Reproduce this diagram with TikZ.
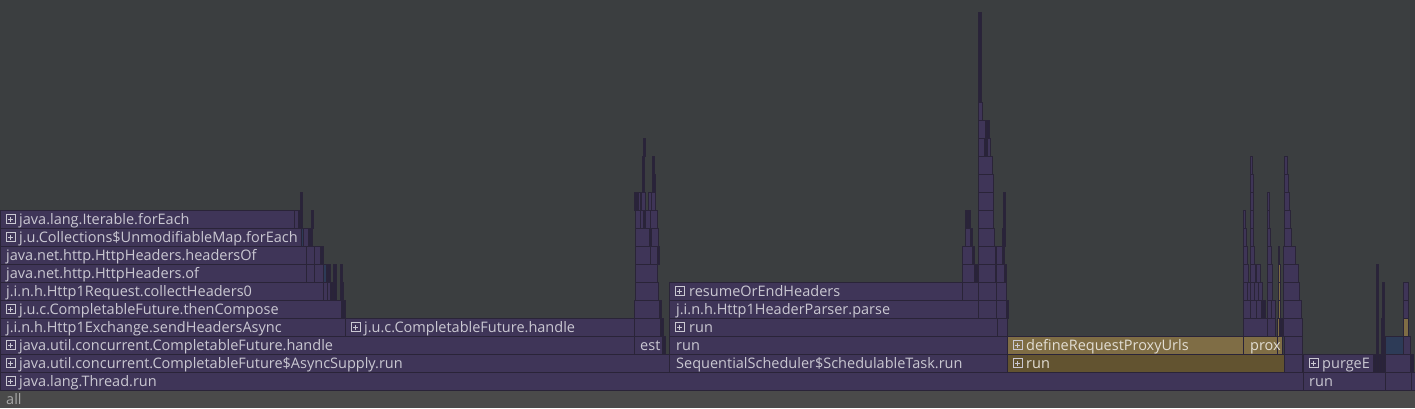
\documentclass[tikz,border=0pt]{standalone}
\usepackage{fontspec}
\setmainfont{Open Sans}
\definecolor{bg}{HTML}{3B3E40}
\definecolor{allc}{HTML}{4A4A4A}
\definecolor{fp}{HTML}{3F3558}
\definecolor{fbd}{HTML}{2A2438}
\definecolor{fdk}{HTML}{29233A}
\definecolor{fy}{HTML}{7F6D45}
\definecolor{fyd}{HTML}{625330}
\definecolor{fbl}{HTML}{2D3B57}
\definecolor{txt}{HTML}{CAC8D2}
\definecolor{txty}{HTML}{E2DED4}
\definecolor{txta}{HTML}{A8A8A8}
\tikzset{
  frm/.style={draw=fbd, line width=1pt},
  lbl/.style={anchor=base west, inner sep=0pt, text=txt, font=\fontsize{14.5}{15}\selectfont},
  ico/.style={draw=txt, line width=0.9pt},
}
\newcommand\FB[4][fp]{\path[frm,fill=#1] (#2,{390-18*#4}) rectangle (#3,{408-18*#4});}
\newcommand\IC[2]{\draw[ico] (#1,{394.5-18*#2}) rectangle ++(9,9);
  \draw[ico] ({#1+2},{399-18*#2}) -- ++(5,0); \draw[ico] ({#1+4.5},{396.5-18*#2}) -- ++(0,5);}
\newcommand\LB[5][txt]{\node[lbl,text=#1] (#2) at (#3,{404-18*#4}) {#5};}
\begin{document}
\begin{tikzpicture}[x=1pt,y=-1pt]
\useasboundingbox (0,0) rectangle (1415,408);
\fill[bg] (0,0) rectangle (1415,408);
\fill[allc] (0,390) rectangle (1415,408);
\node[lbl,text=txta] (all) at (6,404) {all};
% labelled frames
\FB{0}{1303}{1} \FB{1303}{1385}{1}
\FB{0}{669}{2} \FB{669}{1007}{2} \FB[fyd]{1007}{1284}{2} \FB{1303}{1373}{2}
\FB{0}{634}{3} \FB{634}{662}{3} \FB{669}{1007}{3} \FB[fy]{1007}{1243}{3} \FB[fy]{1243}{1277}{3} \FB[fy]{1277}{1282}{3} \FB[fbl]{1385}{1403}{3}
\FB{0}{345}{4} \FB{345}{634}{4} \FB{669}{997}{4}
\FB{0}{341}{5} \FB{669}{978}{5}
\FB{0}{323}{6} \FB{669}{962}{6}
\FB{0}{306}{7}
\FB{0}{306}{8}
\FB{0}{301}{9}
\FB{0}{294}{10}
% plain purple frames
\foreach \a/\b/\r in {1385/1411/1, 1411/1415/1, 1284/1302/2, 1385/1410/2, 1284/1302/3, 1403/1410/3,
 634/660/4, 997/1007/4, 1243/1267/4, 1267/1275/4, 1283/1302/4,
 634/659/5, 978/996/5, 996/1006/5, 1243/1250/5, 1250/1256/5, 1256/1261/5, 1267/1271/5, 1271/1275/5, 1283/1301/5, 1403/1408/5,
 323/327/6, 327/330/6, 635/658/6, 962/978/6, 978/996/6, 996/1006/6, 1243/1247/6, 1247/1250/6, 1250/1254/6, 1254/1258/6, 1258/1262/6, 1267/1272/6, 1283/1299/6, 1403/1408/6,
 306/314/7, 314/323/7, 635/657/7, 962/974/7, 978/995/7, 996/1004/7, 1243/1248/7, 1250/1255/7, 1256/1260/7, 1267/1272/7, 1283/1298/7,
 306/314/8, 314/320/8, 635/650/8, 650/657/8, 962/972/8, 978/995/8, 996/1002/8, 1243/1247/8, 1250/1254/8, 1267/1271/8, 1283/1295/8,
 303/308/9, 635/649/9, 651/658/9, 965/970/9, 978/994/9, 1243/1246/9, 1250/1253/9, 1267/1270/9, 1284/1291/9,
 294/298/10, 635/640/10, 640/643/10, 645/650/10, 650/657/10, 978/993/10, 1243/1245/10, 1250/1253/10, 1267/1269/10, 1284/1290/10,
 638/640/11, 641/645/11, 648/651/11, 651/655/11, 978/993/11, 1250/1253/11, 1267/1269/11, 1284/1289/11,
 978/993/12, 1250/1253/12, 1284/1288/12,
 978/992/13, 1250/1252/13, 1284/1287/13,
 978/984/14, 987/990/14, 978/985/15, 978/982/16}
 {\FB{\a}{\b}{\r}}
% dark slivers
\foreach \a/\b/\r in {1373/1376/2, 1376/1379/2, 1379/1382/2, 1382/1385/2, 1410/1413/2,
 662/665/3, 1376/1378/3, 1381/1384/3,
 660/663/4, 1279/1282/4, 1376/1378/4, 1381/1384/4,
 341/345/5, 659/661/5, 1006/1008/5, 1261/1265/5, 1376/1378/5, 1382/1384/5,
 330/332/6, 333/336/6, 340/343/6, 1376/1378/6, 1382/1384/6,
 326/330/7, 333/336/7, 340/342/7, 974/977/7, 1004/1006/7, 1376/1378/7,
 320/323/8, 657/659/8, 972/974/8, 1002/1004/8,
 308/312/9, 649/651/9, 970/972/9, 1002/1005/9,
 298/300/10, 300/302/10, 311/313/10, 643/645/10, 965/967/10, 968/970/10, 1003/1005/10,
 300/302/11, 634/638/11, 1003/1005/11,
 642/644/12, 652/655/12, 642/644/13, 652/654/13,
 643/645/14, 984/987/14, 986/989/15}
 {\FB[fdk]{\a}{\b}{\r}}
\path[frm,fill=fdk] (978,12) rectangle (981,102);
% small yellow and blue frames
\foreach \a/\b/\r in {1277/1279/4, 1403/1408/4, 1278/1280/5, 1278/1280/6, 1278/1280/7, 1278/1279/8}
 {\FB[fy]{\a}{\b}{\r}}
\FB[fbl]{323}{326}{7} \FB[fbl]{301}{303}{9}
% icons
\IC{6}{1} \IC{6}{2} \IC{1013}{2} \IC{1309}{2}
\IC{6}{3} \IC{1013}{3}
\IC{351}{4} \IC{675}{4}
\IC{6}{5} \IC{675}{6}
\IC{6}{9} \IC{6}{10}
% labels
\LB{l1}{19}{1}{java.lang.Thread.run}
\LB{l2}{1309}{1}{run}
\LB{l3}{19}{2}{java.util.concurrent.CompletableFuture\$AsyncSupply.run}
\LB{l4}{676}{2}{SequentialScheduler\$SchedulableTask.run}
\LB[txty]{l5}{1026}{2}{run}
\LB{l6}{1322}{2}{purgeE}
\LB{l7}{19}{3}{java.util.concurrent.CompletableFuture.handle}
\LB{l8}{640}{3}{est}
\LB{l9}{676}{3}{run}
\LB[txty]{l10}{1026}{3}{defineRequestProxyUrls}
\LB[txty]{l11}{1250}{3}{prox}
\LB{l12}{6}{4}{j.i.n.h.Http1Exchange.sendHeadersAsync}
\LB{l13}{364}{4}{j.u.c.CompletableFuture.handle}
\LB{l14}{689}{4}{run}
\LB{l15}{19}{5}{j.u.c.CompletableFuture.thenCompose}
\LB{l16}{676}{5}{j.i.n.h.Http1HeaderParser.parse}
\LB{l17}{6}{6}{j.i.n.h.Http1Request.collectHeaders0}
\LB{l18}{689}{6}{resumeOrEndHeaders}
\LB{l19}{6}{7}{java.net.http.HttpHeaders.of}
\LB{l20}{6}{8}{java.net.http.HttpHeaders.headersOf}
\LB{l21}{19}{9}{j.u.Collections\$UnmodifiableMap.forEach}
\LB{l22}{19}{10}{java.lang.Iterable.forEach}
\end{tikzpicture}
\end{document}
